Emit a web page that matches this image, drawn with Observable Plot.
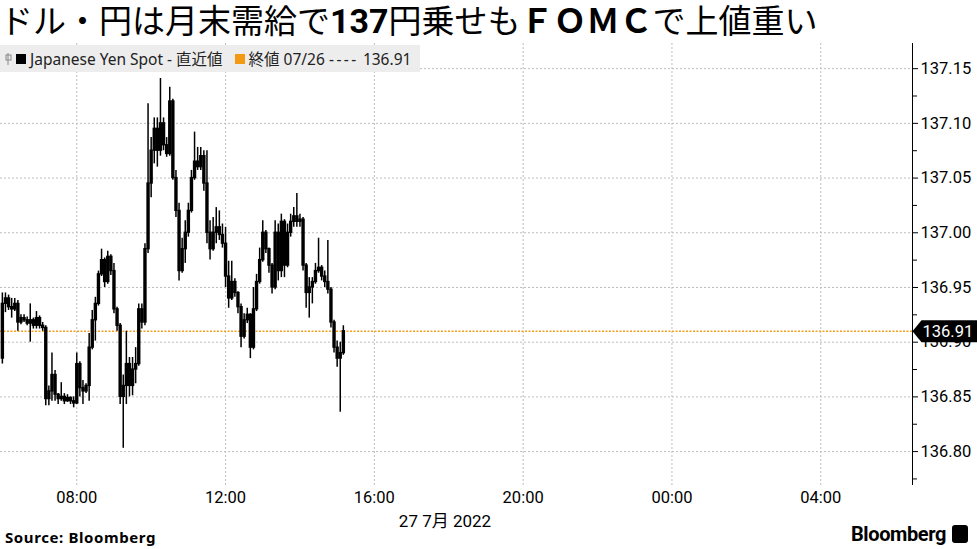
<!DOCTYPE html>
<html><head><meta charset="utf-8">
<script src="https://cdn.jsdelivr.net/npm/d3@7"></script>
<script src="https://cdn.jsdelivr.net/npm/@observablehq/plot@0.6"></script>
<style>
body{margin:0;width:977px;height:549px;overflow:hidden;background:#fff;position:relative;font-family:Roboto,"Noto Sans",sans-serif;color:#000;}
#title{position:absolute;left:0;top:3px;height:40px;line-height:36px;font-size:33px;font-family:"DejaVu Sans","Noto Sans CJK JP";white-space:nowrap;letter-spacing:0px;}
#title b{font-weight:700;}
#title b.num{font-family:Roboto,"DejaVu Sans";font-size:34px;}
#chart{position:absolute;left:0;top:43px;}
#legend{position:absolute;left:0;top:45px;width:420px;height:27px;background:rgba(236,236,236,0.95);font-family:"Noto Sans","Noto Sans CJK JP",sans-serif;font-size:15.5px;color:#222;display:flex;align-items:center;white-space:nowrap;}
#legend .sq{display:inline-block;width:10px;height:10px;margin:0 4px 0 2px;}
#legend .dash{letter-spacing:2.5px;}
#date{position:absolute;left:392px;top:507px;width:106px;text-align:center;font-size:17px;font-family:Roboto,"Noto Sans CJK JP";}
#source{position:absolute;left:5px;top:527px;font-size:15px;font-weight:700;letter-spacing:0.6px;font-family:"Noto Sans",sans-serif;}
#logo{position:absolute;left:851px;top:522px;font-size:20px;font-weight:700;font-family:Roboto,sans-serif;letter-spacing:-0.4px;display:flex;align-items:center;}
#logo .ic{display:inline-block;width:16px;height:18px;background:#000;border-radius:3px;margin-left:6px;}
</style></head>
<body>
<div id="title">ドル・円は月末需給で<b class="num">137</b>円乗せも<b>ＦＯＭＣ</b>で上値重い</div>
<div id="chart"></div>
<div id="legend">
  <svg width="12" height="16" style="margin-left:4px"><line x1="4" y1="2" x2="4" y2="14" stroke="#888" stroke-width="1"/><rect x="2" y="4" width="5" height="5" fill="none" stroke="#888"/></svg>
  <span class="sq" style="background:#000;margin-left:0"></span><span>Japanese Yen Spot - 直近値</span>
  <span class="sq" style="background:#f39a12;margin-left:12px"></span><span>終値 07/26 <span class="dash">----</span> 136.91</span>
</div>
<div id="date">27 7月 2022</div>
<div id="source">Source: Bloomberg</div>
<div id="logo">Bloomberg<span class="ic"></span></div>
<script>
// 5-minute candles starting 2022-07-27 06:00
const startTime = "2022-07-27T06:00:00Z";
const intervalMinutes = 5;
const opens = [136.885,136.935,136.940,136.932,136.930,136.935,136.918,136.922,136.920,136.917,136.920,136.915,136.922,136.915,136.913,136.848,136.855,136.870,136.852,136.848,136.850,136.846,136.849,136.846,136.844,136.880,136.858,136.855,136.860,136.895,136.920,136.935,136.962,136.975,136.955,136.978,136.965,136.930,136.915,136.850,136.860,136.880,136.860,136.875,136.880,136.930,136.918,136.985,137.045,137.075,137.095,137.075,137.100,137.080,137.072,137.120,137.050,137.020,136.965,136.985,137.000,137.020,137.050,137.065,137.060,137.070,137.045,137.000,136.985,137.000,137.005,136.998,136.990,136.960,136.940,136.955,136.945,136.932,136.905,136.920,136.925,136.895,136.930,136.955,136.975,137.000,136.985,136.970,136.950,137.000,136.965,137.010,136.970,137.000,137.010,137.015,137.010,137.012,136.970,136.945,136.950,136.955,136.965,136.968,136.960,136.955,136.948,136.918,136.895,136.885,136.890];
const highs = [136.945,136.945,136.943,136.940,136.940,136.938,136.925,136.925,136.923,136.935,136.922,136.928,136.924,136.918,136.915,136.860,136.890,136.874,136.853,136.863,136.853,136.852,136.850,136.850,136.890,136.882,136.865,136.862,136.908,136.929,136.941,136.965,136.985,136.977,136.983,136.980,136.972,136.932,136.917,136.870,136.910,136.886,136.886,136.895,136.935,136.935,136.990,137.118,137.087,137.105,137.105,137.141,137.105,137.087,137.133,137.122,137.057,137.027,136.995,137.011,137.027,137.057,137.092,137.078,137.078,137.075,137.075,137.011,137.014,137.023,137.020,137.008,137.005,136.974,136.974,136.958,136.946,136.935,136.926,136.931,136.926,136.950,136.962,136.986,137.011,137.002,136.986,136.972,137.011,137.008,137.017,137.012,137.008,137.017,137.023,137.036,137.017,137.014,136.972,136.959,136.959,136.972,136.995,136.970,136.965,136.993,136.950,136.920,136.901,136.900,136.915];
const lows = [136.880,136.927,136.929,136.922,136.928,136.910,136.916,136.918,136.915,136.900,136.912,136.912,136.912,136.910,136.842,136.842,136.846,136.846,136.843,136.846,136.843,136.845,136.843,136.840,136.843,136.850,136.843,136.853,136.846,136.893,136.901,136.933,136.960,136.950,136.953,136.961,136.926,136.910,136.843,136.803,136.843,136.850,136.851,136.862,136.878,136.912,136.915,136.981,137.032,137.063,137.060,137.070,137.075,137.069,137.070,137.048,137.014,136.956,136.963,136.972,136.996,137.018,137.048,137.057,137.057,137.038,136.990,136.975,136.983,136.990,136.993,136.986,136.950,136.931,136.938,136.941,136.926,136.895,136.903,136.917,136.885,136.893,136.928,136.953,136.973,136.981,136.963,136.944,136.948,136.956,136.959,136.959,136.968,136.996,137.005,137.005,137.005,136.965,136.931,136.922,136.935,136.953,136.963,136.956,136.950,136.944,136.913,136.890,136.877,136.836,136.888];
const closes = [136.935,136.940,136.932,136.930,136.935,136.918,136.922,136.920,136.917,136.920,136.915,136.922,136.915,136.913,136.848,136.855,136.870,136.852,136.848,136.850,136.846,136.849,136.846,136.844,136.880,136.858,136.855,136.860,136.895,136.920,136.935,136.962,136.975,136.955,136.978,136.965,136.930,136.915,136.850,136.860,136.880,136.860,136.875,136.880,136.930,136.918,136.985,137.045,137.075,137.095,137.075,137.100,137.080,137.072,137.120,137.050,137.020,136.965,136.985,137.000,137.020,137.050,137.065,137.060,137.070,137.045,137.000,136.985,137.000,137.005,136.998,136.990,136.960,136.940,136.955,136.945,136.932,136.905,136.920,136.925,136.895,136.930,136.955,136.975,137.000,136.985,136.970,136.950,137.000,136.965,137.010,136.970,137.000,137.010,137.015,137.010,137.012,136.970,136.945,136.950,136.955,136.965,136.968,136.960,136.955,136.948,136.918,136.895,136.885,136.890,136.910];

const prevClose = 136.91;
const yTicks = [136.80,136.85,136.90,136.95,137.00,137.05,137.10,137.15];
const yMinorTicks = [136.775,136.825,136.875,136.925,136.975,137.025,137.075,137.125];
const xTickLabels = ["2022-07-27T08:00:00Z","2022-07-27T12:00:00Z","2022-07-27T16:00:00Z","2022-07-27T20:00:00Z","2022-07-28T00:00:00Z","2022-07-28T04:00:00Z"];
const xDomain = ["2022-07-27T05:57:00Z","2022-07-28T06:28:00Z"];
const yDomain = [136.769, 137.173];

const t0 = new Date(startTime).getTime();
const candles = opens.map((o, i) => ({
  date: new Date(t0 + i * intervalMinutes * 60000),
  open: o, high: highs[i], low: lows[i], close: closes[i]
}));
const xTicks = xTickLabels.map(s => new Date(s));
const xStart = new Date(xDomain[0]), xEnd = new Date(xDomain[1]);
const tag = [{date: xEnd, value: prevClose}];

const tagSymbol = {draw(ctx){ ctx.moveTo(0,0); ctx.lineTo(9,-11); ctx.lineTo(66,-11); ctx.lineTo(66,11); ctx.lineTo(9,11); ctx.closePath(); }};

const chart = Plot.plot({
  width: 977, height: 485,
  marginTop: 0, marginLeft: 0, marginRight: 65, marginBottom: 43,
  style: {fontFamily: "Roboto, 'Noto Sans', sans-serif", fontSize: "16px", color: "#000", background: "transparent"},
  x: {type: "utc", domain: [xStart, xEnd], axis: null},
  y: {domain: yDomain, axis: null},
  marks: [
    Plot.gridY(yTicks, {stroke: "#bdbdbd", strokeOpacity: 1, strokeDasharray: "2,2"}),
    Plot.gridX(xTicks, {stroke: "#bdbdbd", strokeOpacity: 1, strokeDasharray: "2,2"}),
    Plot.ruleY([prevClose], {stroke: "#f2a01e", strokeWidth: 1.4, strokeDasharray: "2,1.5"}),
    Plot.ruleX(candles, {x: "date", y1: "low", y2: "high", stroke: "#000", strokeWidth: 1.5}),
    Plot.ruleX(candles, {x: "date", y1: d => Math.min(d.open, d.close) - 0.0006, y2: d => Math.max(d.open, d.close) + 0.0006, stroke: "#000", strokeWidth: 3.4}),
    Plot.ruleX([xEnd], {stroke: "#000", strokeWidth: 1}),
    Plot.axisY(yTicks, {anchor: "right", tickSize: 5, tickPadding: 3, fontSize: 16.5, tickFormat: d => d.toFixed(2)}),
    Plot.axisY(yMinorTicks, {anchor: "right", tickSize: 4, tickFormat: () => ""}),
    Plot.axisX(xTicks, {anchor: "bottom", tickSize: 0, tickPadding: 6, fontSize: 16.5, tickFormat: d3.utcFormat("%H:%M")}),
    Plot.dot(tag, {x: "date", y: "value", symbol: tagSymbol, fill: "#000", stroke: "none", r: 5}),
    Plot.text(tag, {x: "date", y: "value", text: d => d.value.toFixed(2), fill: "#fff", textAnchor: "start", dx: 10, fontSize: 16.5})
  ]
});
document.getElementById("chart").appendChild(chart);
</script>
</body></html>
